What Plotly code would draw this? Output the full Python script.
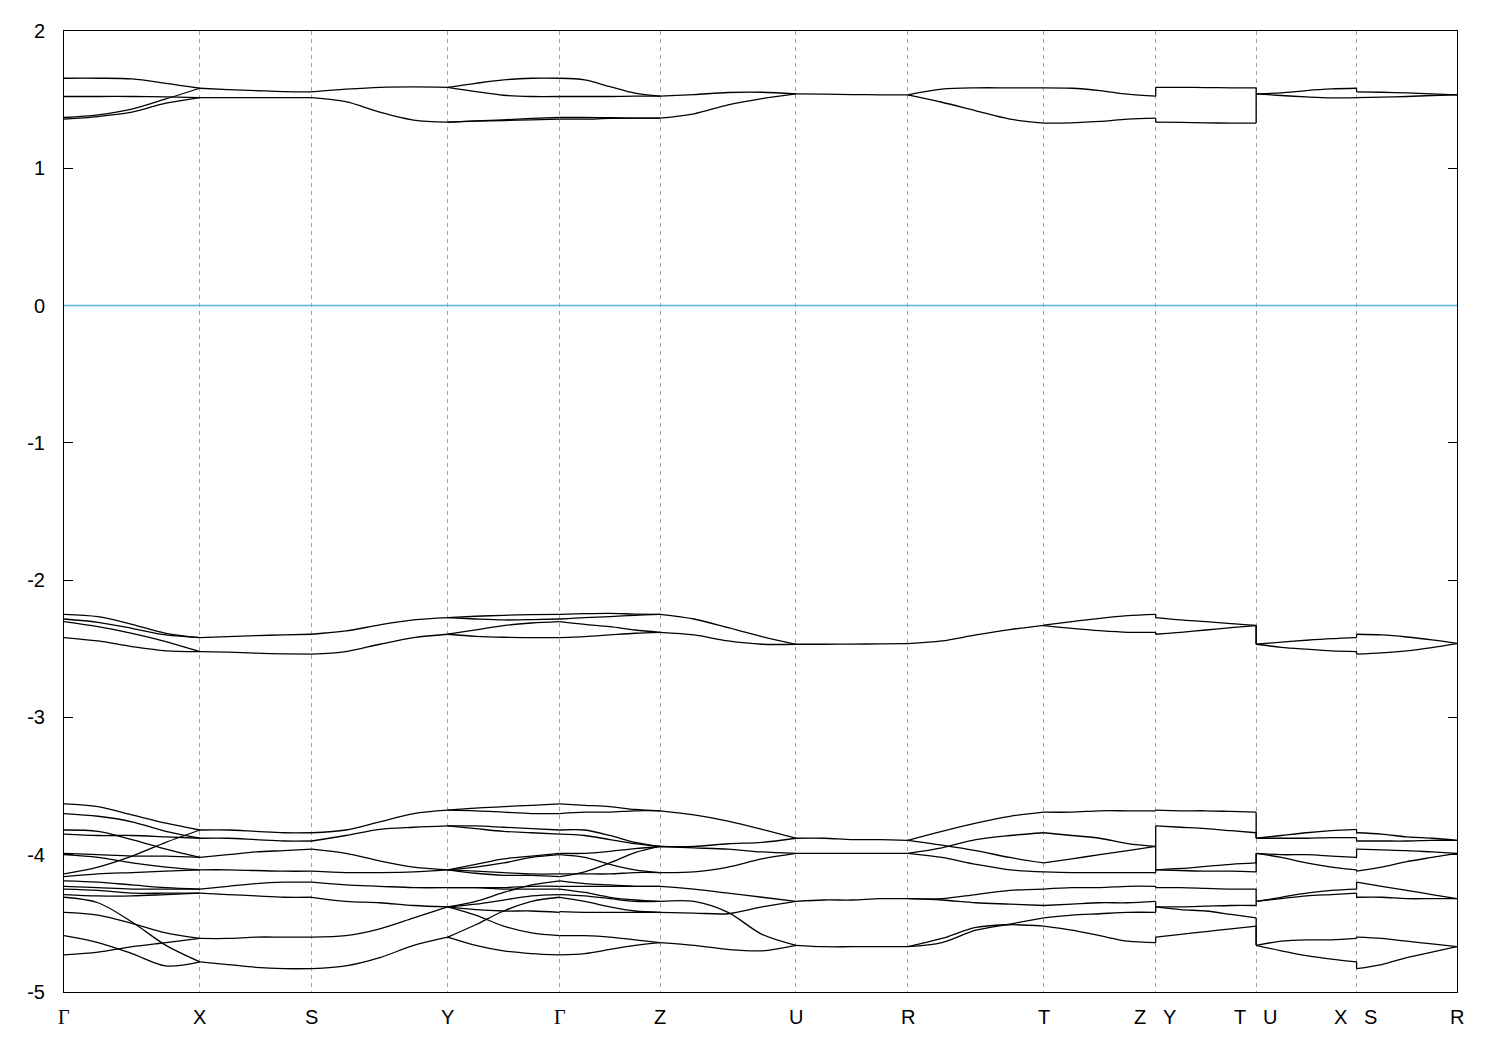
import plotly.graph_objects as go

# ---------------- k-path (reciprocal half lengths, arbitrary units) ----------------
half_a, half_b, half_c = 1.36, 1.12, 1.005
seg_lengths = [half_a, half_b, half_a, half_b, half_c, half_a, half_b, half_a, half_b, half_c, half_c, half_c]
node_labels = ["Γ", "X", "S", "Y", "Γ", "Z", "U", "R", "T", "Z|Y", "T|U", "X|S", "R"]
frac = [0.0, 0.25, 0.5, 0.75, 1.0]   # sample positions inside each segment

# ---------------- band energies (eV) per segment, values at frac ----------------
seg_GX = [
    [1.656, 1.656, 1.651, 1.619, 1.583], [1.523, 1.523, 1.523, 1.520, 1.515],
    [1.370, 1.389, 1.431, 1.505, 1.583], [1.358, 1.377, 1.409, 1.474, 1.515],
    [-2.249, -2.266, -2.322, -2.387, -2.418], [-2.283, -2.307, -2.351, -2.399, -2.418],
    [-2.302, -2.339, -2.387, -2.447, -2.520], [-2.418, -2.443, -2.484, -2.515, -2.520],
    [-3.63, -3.65, -3.71, -3.77, -3.82], [-3.70, -3.72, -3.76, -3.83, -3.88],
    [-3.85, -3.86, -3.86, -3.87, -3.88], [-4.14, -4.09, -4.01, -3.91, -3.82],
    [-3.82, -3.83, -3.89, -3.96, -4.02], [-3.99, -4.00, -4.01, -4.01, -4.02],
    [-4.00, -4.02, -4.06, -4.09, -4.11], [-4.16, -4.14, -4.13, -4.12, -4.11],
    [-4.19, -4.20, -4.22, -4.24, -4.25], [-4.23, -4.24, -4.25, -4.25, -4.25],
    [-4.25, -4.26, -4.28, -4.28, -4.28], [-4.29, -4.30, -4.30, -4.29, -4.28],
    [-4.31, -4.35, -4.49, -4.66, -4.78], [-4.42, -4.44, -4.50, -4.57, -4.61],
    [-4.59, -4.64, -4.72, -4.81, -4.78], [-4.73, -4.71, -4.67, -4.64, -4.61],
]
seg_XS = [
    [1.515, 1.515, 1.515, 1.515, 1.515], [1.583, 1.573, 1.566, 1.559, 1.557],
    [-2.418, -2.411, -2.404, -2.399, -2.394], [-2.520, -2.525, -2.532, -2.537, -2.539],
    [-3.82, -3.82, -3.83, -3.84, -3.84], [-3.88, -3.88, -3.89, -3.90, -3.90],
    [-4.02, -4.00, -3.98, -3.97, -3.96], [-4.11, -4.11, -4.115, -4.12, -4.12],
    [-4.25, -4.23, -4.21, -4.20, -4.20], [-4.28, -4.29, -4.30, -4.31, -4.31],
    [-4.61, -4.61, -4.60, -4.60, -4.60], [-4.78, -4.80, -4.82, -4.83, -4.83],
]
seg_SY = [
    [1.515, 1.486, 1.409, 1.351, 1.336], [1.557, 1.576, 1.590, 1.593, 1.590],
    [-2.394, -2.370, -2.326, -2.290, -2.273], [-2.539, -2.520, -2.467, -2.418, -2.394],
    [-3.84, -3.82, -3.76, -3.70, -3.675], [-3.90, -3.86, -3.815, -3.80, -3.79],
    [-3.96, -3.99, -4.045, -4.09, -4.11], [-4.12, -4.13, -4.13, -4.125, -4.11],
    [-4.20, -4.22, -4.23, -4.24, -4.24], [-4.31, -4.34, -4.35, -4.37, -4.38],
    [-4.60, -4.59, -4.54, -4.46, -4.38], [-4.83, -4.81, -4.75, -4.66, -4.60],
]
seg_YG = [
    [1.336, 1.343, 1.348, 1.353, 1.358], [1.336, 1.346, 1.353, 1.363, 1.370],
    [1.590, 1.559, 1.532, 1.523, 1.523], [1.590, 1.619, 1.644, 1.656, 1.656],
    [-2.273, -2.263, -2.256, -2.251, -2.249], [-2.273, -2.283, -2.290, -2.288, -2.283],
    [-2.394, -2.363, -2.331, -2.312, -2.302], [-2.394, -2.409, -2.416, -2.418, -2.418],
    [-3.675, -3.66, -3.65, -3.64, -3.63], [-3.675, -3.68, -3.69, -3.70, -3.70],
    [-3.79, -3.79, -3.80, -3.81, -3.82], [-3.79, -3.81, -3.83, -3.84, -3.85],
    [-4.11, -4.07, -4.03, -4.01, -3.99], [-4.11, -4.09, -4.06, -4.02, -4.00],
    [-4.11, -4.12, -4.13, -4.14, -4.14], [-4.11, -4.135, -4.15, -4.15, -4.16],
    [-4.24, -4.24, -4.25, -4.25, -4.25], [-4.24, -4.24, -4.24, -4.23, -4.23],
    [-4.38, -4.34, -4.275, -4.22, -4.19], [-4.38, -4.36, -4.33, -4.30, -4.29],
    [-4.38, -4.40, -4.41, -4.41, -4.42], [-4.38, -4.44, -4.52, -4.57, -4.59],
    [-4.60, -4.51, -4.41, -4.34, -4.31], [-4.60, -4.66, -4.70, -4.72, -4.73],
]
seg_GZ = [
    [1.358, 1.358, 1.363, 1.365, 1.365], [1.370, 1.370, 1.368, 1.365, 1.365],
    [1.523, 1.523, 1.523, 1.525, 1.525], [1.656, 1.644, 1.595, 1.547, 1.525],
    [-2.249, -2.244, -2.242, -2.247, -2.249], [-2.283, -2.273, -2.266, -2.256, -2.249],
    [-2.302, -2.322, -2.339, -2.363, -2.380], [-2.418, -2.411, -2.399, -2.387, -2.380],
    [-3.63, -3.64, -3.65, -3.67, -3.68], [-3.70, -3.69, -3.69, -3.68, -3.68],
    [-3.82, -3.82, -3.86, -3.91, -3.94], [-3.85, -3.86, -3.89, -3.92, -3.94],
    [-3.99, -3.99, -3.975, -3.955, -3.94], [-4.16, -4.125, -4.06, -3.985, -3.94],
    [-4.00, -4.02, -4.07, -4.11, -4.13], [-4.14, -4.14, -4.14, -4.13, -4.13],
    [-4.19, -4.21, -4.22, -4.23, -4.23], [-4.23, -4.23, -4.23, -4.23, -4.23],
    [-4.25, -4.275, -4.31, -4.33, -4.34], [-4.29, -4.30, -4.32, -4.34, -4.34],
    [-4.31, -4.34, -4.38, -4.41, -4.42], [-4.415, -4.42, -4.42, -4.42, -4.42],
    [-4.59, -4.59, -4.60, -4.62, -4.64], [-4.73, -4.72, -4.69, -4.66, -4.64],
]
seg_ZU = [
    [1.365, 1.397, 1.462, 1.508, 1.542], [1.525, 1.537, 1.552, 1.554, 1.542],
    [-2.249, -2.283, -2.346, -2.411, -2.467], [-2.380, -2.399, -2.443, -2.467, -2.467],
    [-3.68, -3.71, -3.755, -3.815, -3.88], [-3.94, -3.94, -3.92, -3.91, -3.88],
    [-3.94, -3.95, -3.96, -3.98, -3.99], [-4.13, -4.125, -4.09, -4.03, -3.99],
    [-4.23, -4.25, -4.28, -4.31, -4.34], [-4.42, -4.425, -4.43, -4.38, -4.34],
    [-4.34, -4.34, -4.42, -4.58, -4.66], [-4.64, -4.66, -4.69, -4.70, -4.66],
]
seg_UR = [
    [1.542, 1.540, 1.537, 1.535, 1.535],
    [-2.467, -2.467, -2.466, -2.464, -2.462],
    [-3.88, -3.88, -3.89, -3.89, -3.895], [-3.99, -3.99, -3.99, -3.99, -3.99],
    [-4.34, -4.33, -4.33, -4.32, -4.32], [-4.66, -4.67, -4.67, -4.67, -4.67],
]
seg_RT = [
    [1.535, 1.481, 1.419, 1.358, 1.329], [1.535, 1.576, 1.586, 1.586, 1.586],
    [-2.462, -2.443, -2.399, -2.360, -2.329],
    [-3.895, -3.83, -3.77, -3.72, -3.69], [-3.99, -3.95, -3.89, -3.86, -3.84],
    [-3.895, -3.93, -3.97, -4.02, -4.06], [-3.99, -4.02, -4.07, -4.11, -4.125],
    [-4.32, -4.32, -4.29, -4.26, -4.25], [-4.32, -4.33, -4.35, -4.36, -4.37],
    [-4.67, -4.64, -4.55, -4.505, -4.46], [-4.67, -4.61, -4.53, -4.51, -4.52],
]
seg_TZ = [
    [1.329, 1.331, 1.341, 1.358, 1.365], [1.586, 1.583, 1.566, 1.540, 1.525],
    [-2.327, -2.302, -2.278, -2.259, -2.249], [-2.331, -2.351, -2.368, -2.380, -2.380],
    [-3.69, -3.69, -3.68, -3.68, -3.68], [-3.84, -3.86, -3.88, -3.92, -3.94],
    [-4.06, -4.03, -4.00, -3.97, -3.94], [-4.125, -4.13, -4.13, -4.13, -4.13],
    [-4.25, -4.24, -4.24, -4.23, -4.23], [-4.37, -4.36, -4.35, -4.35, -4.34],
    [-4.46, -4.44, -4.43, -4.42, -4.42], [-4.52, -4.55, -4.59, -4.63, -4.64],
]
seg_YT = [
    [1.336, 1.334, 1.331, 1.329, 1.329], [1.590, 1.590, 1.588, 1.586, 1.586],
    [-2.273, -2.290, -2.302, -2.317, -2.329], [-2.394, -2.380, -2.363, -2.346, -2.331],
    [-3.675, -3.68, -3.68, -3.685, -3.69], [-3.79, -3.80, -3.81, -3.825, -3.84],
    [-4.11, -4.10, -4.085, -4.07, -4.06], [-4.11, -4.115, -4.12, -4.12, -4.125],
    [-4.24, -4.24, -4.245, -4.25, -4.25], [-4.38, -4.38, -4.375, -4.37, -4.37],
    [-4.38, -4.40, -4.41, -4.435, -4.46], [-4.60, -4.58, -4.56, -4.54, -4.52],
]
seg_UX = [
    [1.542, 1.530, 1.520, 1.513, 1.515], [1.542, 1.549, 1.566, 1.578, 1.583],
    [-2.467, -2.452, -2.438, -2.426, -2.418], [-2.467, -2.489, -2.503, -2.515, -2.520],
    [-3.88, -3.86, -3.84, -3.825, -3.815], [-3.88, -3.88, -3.88, -3.876, -3.876],
    [-3.99, -4.00, -4.00, -4.01, -4.02], [-3.99, -4.02, -4.06, -4.09, -4.11],
    [-4.34, -4.31, -4.28, -4.26, -4.25], [-4.34, -4.32, -4.30, -4.29, -4.28],
    [-4.66, -4.63, -4.62, -4.62, -4.61], [-4.66, -4.70, -4.735, -4.76, -4.78],
]
seg_SR = [
    [1.515, 1.518, 1.523, 1.530, 1.535], [1.557, 1.554, 1.549, 1.542, 1.535],
    [-2.394, -2.399, -2.414, -2.435, -2.460], [-2.539, -2.530, -2.515, -2.491, -2.462],
    [-3.84, -3.85, -3.87, -3.88, -3.895], [-3.90, -3.90, -3.90, -3.895, -3.895],
    [-3.96, -3.965, -3.97, -3.98, -3.99], [-4.12, -4.09, -4.05, -4.02, -3.99],
    [-4.20, -4.23, -4.26, -4.29, -4.32], [-4.31, -4.31, -4.32, -4.32, -4.32],
    [-4.60, -4.61, -4.63, -4.65, -4.67], [-4.83, -4.80, -4.75, -4.71, -4.67],
]
segments = [seg_GX, seg_XS, seg_SY, seg_YG, seg_GZ, seg_ZU, seg_UR, seg_RT, seg_TZ, seg_YT, seg_UX, seg_SR]
jump_nodes = [9, 10, 11]   # discontinuities Z|Y, T|U, X|S

# ---------------- build geometry ----------------
nodes = [0.0]
for L in seg_lengths:
    nodes.append(nodes[-1] + L)

bx, by = [], []
for i, seg in enumerate(segments):
    k0, L = nodes[i], seg_lengths[i]
    for curve in seg:
        bx += [k0 + f * L for f in frac] + [None]
        by += list(curve) + [None]

jx, jy = [], []
for j in jump_nodes:
    left = sorted(c[-1] for c in segments[j - 1])
    right = sorted(c[0] for c in segments[j])
    for a, b in zip(left, right):
        jx += [nodes[j], nodes[j], None]
        jy += [a, b, None]

fig = go.Figure()
fig.add_trace(go.Scatter(x=bx, y=by, mode="lines", connectgaps=False,
                         line=dict(color="black", width=1.3, shape="spline", smoothing=0.9),
                         hoverinfo="skip", showlegend=False))
fig.add_trace(go.Scatter(x=jx, y=jy, mode="lines", line=dict(color="black", width=1.3),
                         hoverinfo="skip", showlegend=False))

# Fermi level
fig.add_shape(type="line", xref="x", yref="y", x0=nodes[0], x1=nodes[-1], y0=0, y1=0,
              line=dict(color="#56b4e9", width=1.6), layer="above")

# labels under the axis
for k, lab in zip(nodes, node_labels):
    parts = lab.split("|")
    shifts = [0] if len(parts) == 1 else [-16, 14]
    for p, s in zip(parts, shifts):
        fam = "Liberation Serif, Times New Roman, serif" if p == "Γ" else "Liberation Sans, Arial, sans-serif"
        fig.add_annotation(x=k, y=0, xref="x", yref="paper", text=p, showarrow=False,
                           xshift=s, yshift=-12, yanchor="top", xanchor="center",
                           font=dict(family=fam, size=20, color="black"))

fig.update_layout(
    width=1486, height=1035,
    margin=dict(l=56, r=37, t=19, b=51),
    plot_bgcolor="white", paper_bgcolor="white",
    font=dict(family="Liberation Sans, Arial, sans-serif", size=20, color="black"),
)
fig.update_xaxes(range=[nodes[0], nodes[-1]], tickvals=nodes, ticktext=[""] * len(nodes),
                 showgrid=True, gridcolor="#a0a0a0", gridwidth=1, griddash="4px,4px",
                 showline=True, linecolor="black", linewidth=1, mirror=True,
                 ticks="", zeroline=False)
fig.update_yaxes(range=[-5, 2], tickvals=[2, 1, 0, -1, -2, -3, -4, -5],
                 ticktext=["2", "1", "0", "-1", "-2", "-3", "-4", "-5"],
                 showgrid=False, zeroline=False, showline=True, linecolor="black", linewidth=1,
                 mirror="ticks", ticks="inside", ticklen=9, tickcolor="black",
                 ticklabelstandoff=14)

fig.write_html("out.html")
